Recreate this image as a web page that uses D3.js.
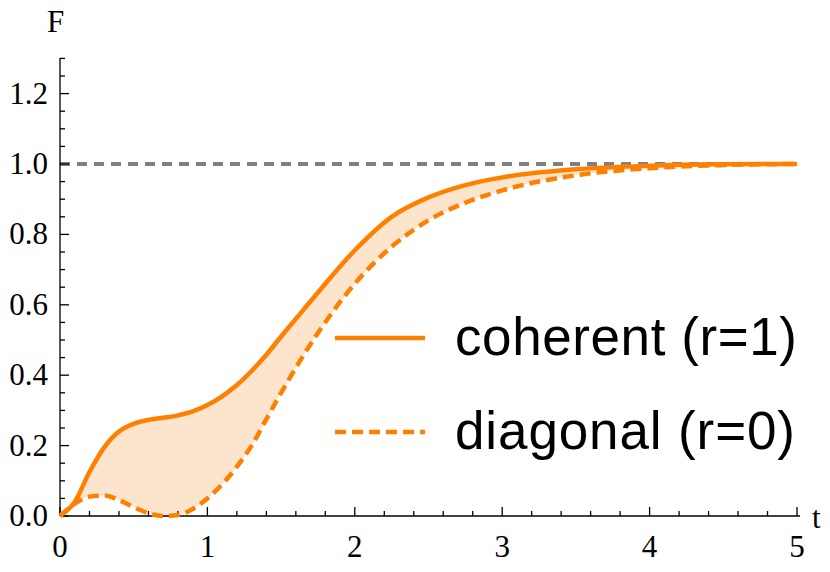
<!DOCTYPE html><html><head><script src="https://cdn.jsdelivr.net/npm/d3@7"></script>
<style>body{margin:0;background:#fff}</style></head><body><svg id="c" width="830" height="572"></svg><script>
const tCoh=[0,0.1,0.2,0.3,0.4,0.5,0.6,0.7,0.8,0.9,1.0,1.1,1.2,1.3,1.4,1.5,1.63,1.75,2.0,2.25,2.5,2.75,3.0,3.5,4.0,4.5,5.0];
const fCoh=[0,0.04,0.125,0.195,0.24,0.262,0.273,0.279,0.286,0.297,0.315,0.34,0.372,0.412,0.458,0.51,0.575,0.635,0.755,0.85,0.905,0.94,0.962,0.985,0.995,0.999,1.0];
const tDia=[0,0.1,0.2,0.3,0.4,0.5,0.6,0.7,0.8,0.9,1.0,1.1,1.2,1.3,1.4,1.5,1.75,2.0,2.25,2.5,2.75,3.0,3.5,4.0,4.5,5.0];
const fDia=[0,0.035,0.055,0.058,0.045,0.025,0.008,0.0,0.003,0.02,0.05,0.09,0.14,0.2,0.275,0.35,0.52,0.66,0.765,0.84,0.89,0.925,0.968,0.988,0.997,1.0];
const xTicks=[0,1,2,3,4,5];
const yTicks=[0,0.2,0.4,0.6,0.8,1.0,1.2];
const svg=d3.select("#c");
const x=d3.scaleLinear().domain([0,5]).range([60,797]);
const y=d3.scaleLinear().domain([0,1]).range([516,164]);
const coh=tCoh.map((t,i)=>[t,fCoh[i]]), dia=tDia.map((t,i)=>[t,fDia[i]]);
const cohS=d3.line().x(d=>x(d[0])).y(d=>y(d[1])).curve(d3.curveMonotoneX);
svg.append("path").attr("d",cohS(coh)+"L"+cohS(dia.slice().reverse()).slice(1)+"Z").attr("fill","#fde5cd").attr("stroke","none");
svg.append("line").attr("x1",x(0)).attr("x2",x(5)).attr("y1",y(1)).attr("y2",y(1)).attr("stroke","#808080").attr("stroke-width",4).attr("stroke-dasharray","10,7");
const ax=svg.append("g").attr("stroke","#000").attr("stroke-width",1.3);
ax.append("line").attr("x1",60).attr("x2",800).attr("y1",516).attr("y2",516);
ax.append("line").attr("x1",60).attr("x2",60).attr("y1",516).attr("y2",58);
d3.range(0,5.01,0.2).forEach(v=>{const m=Math.abs(v-Math.round(v))<1e-6;ax.append("line").attr("x1",x(v)).attr("x2",x(v)).attr("y1",516).attr("y2",516-(m?9:5));});
d3.range(0,1.31,0.05).forEach(v=>{const m=Math.abs(v*5-Math.round(v*5))<1e-6;ax.append("line").attr("x1",60).attr("x2",60+(m?9:5)).attr("y1",y(v)).attr("y2",y(v));});
const f="'Liberation Serif',serif";
xTicks.forEach(v=>svg.append("text").attr("x",x(v)).attr("y",557).attr("text-anchor","middle").attr("font-family",f).attr("font-size",31).text(v));
yTicks.forEach(v=>svg.append("text").attr("x",48).attr("y",y(v)+10).attr("text-anchor","end").attr("font-family",f).attr("font-size",31).text(v.toFixed(1)));
svg.append("text").attr("x",47).attr("y",32).attr("font-family",f).attr("font-size",31).text("F");
svg.append("text").attr("x",812).attr("y",528).attr("font-family",f).attr("font-size",31).text("t");
svg.append("path").attr("d",cohS(dia)).attr("fill","none").attr("stroke","#ff8000").attr("stroke-width",4.5).attr("stroke-dasharray","11,6");
svg.append("path").attr("d",cohS(coh)).attr("fill","none").attr("stroke","#ff8000").attr("stroke-width",4.5);
const lf="'Liberation Sans',Arial,sans-serif";
svg.append("line").attr("x1",335).attr("x2",425).attr("y1",338).attr("y2",338).attr("stroke","#ff8000").attr("stroke-width",4.5);
svg.append("line").attr("x1",335).attr("x2",425).attr("y1",432).attr("y2",432).attr("stroke","#ff8000").attr("stroke-width",4.5).attr("stroke-dasharray","11,6");
svg.append("text").attr("x",455).attr("y",355).attr("font-family",lf).attr("font-size",53).attr("textLength",342).text("coherent (r=1)");
svg.append("text").attr("x",455).attr("y",449).attr("font-family",lf).attr("font-size",53).attr("textLength",340).text("diagonal (r=0)");
</script></body></html>
